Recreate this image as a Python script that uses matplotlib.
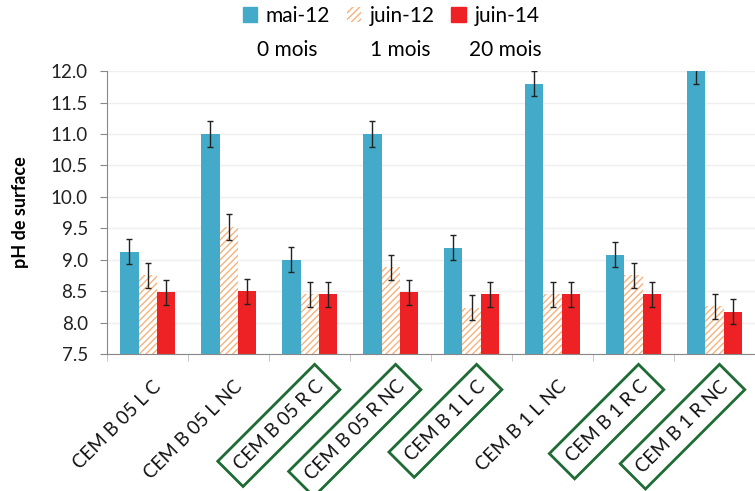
import matplotlib.pyplot as plt
import matplotlib.transforms as mtransforms
import numpy as np
from matplotlib.patches import Patch

plt.rcParams['font.family'] = ['Lato', 'DejaVu Sans']

# données
categories = ['CEM B 05 L C', 'CEM B 05 L NC', 'CEM B 05 R C', 'CEM B 05 R NC',
              'CEM B 1 L C', 'CEM B 1 L NC', 'CEM B 1 R C', 'CEM B 1 R NC']
encadre = [False, False, True, True, True, False, True, True]
series = ['mai-12', 'juin-12', 'juin-14']
durees = ['0 mois', '1 mois', '20 mois']
mai12 = [9.13, 11.0, 9.0, 11.0, 9.19, 11.8, 9.08, 12.0]
juin12 = [8.75, 9.52, 8.45, 8.88, 8.24, 8.45, 8.75, 8.26]
juin14 = [8.48, 8.5, 8.45, 8.48, 8.45, 8.45, 8.45, 8.17]
err_mai12 = [0.2, 0.2, 0.2, 0.2, 0.2, 0.2, 0.2, 0.2]
err_juin12 = [0.2, 0.2, 0.2, 0.2, 0.2, 0.2, 0.2, 0.2]
err_juin14 = [0.2, 0.2, 0.2, 0.2, 0.2, 0.2, 0.2, 0.2]

bleu = '#43abc9'
orange = '#f7b27c'
rouge = '#ee2224'

fig = plt.figure(figsize=(7.55, 4.91), dpi=100)
ax = fig.add_axes([0.142, 0.279, 0.858, 0.576])

x = np.arange(len(categories))
w = 0.225
ebar = dict(ecolor='#222222', elinewidth=1, capsize=2.5, capthick=1)

ax.bar(x - w, mai12, w, yerr=err_mai12, color=bleu, error_kw=ebar, zorder=2)
ax.bar(x, juin12, w, yerr=err_juin12, color='white', edgecolor=orange, hatch='/////',
       linewidth=0, error_kw=ebar, zorder=2)
ax.bar(x + w, juin14, w, yerr=err_juin14, color=rouge, error_kw=ebar, zorder=2)

ax.set_ylim(7.5, 12.0)
ax.set_xlim(-0.5, len(categories) - 0.5)
yt = np.arange(7.5, 12.01, 0.5)
ax.set_yticks(yt)
ax.set_yticklabels([f'{v:.1f}' for v in yt], fontsize=13.5, color='#222222')
ax.yaxis.grid(True, color='#eeeeee', linewidth=1, zorder=0)
ax.set_axisbelow(True)
ax.set_ylabel('pH de surface', fontsize=13, fontweight='bold')
ax.yaxis.set_label_coords(-0.12, 0.5)

for s in ['top', 'right']:
    ax.spines[s].set_visible(False)
for s in ['left', 'bottom']:
    ax.spines[s].set_color('#888888')
ax.tick_params(axis='y', color='#888888', length=5, pad=9)

# ticks entre les catégories
ax.set_xticks(x)
ax.set_xticks(np.arange(-0.5, len(categories), 1), minor=True)
ax.tick_params(axis='x', which='major', length=0, pad=17)
ax.tick_params(axis='x', which='minor', length=5, color='#bbbbbb')
labels = ax.set_xticklabels(categories, rotation=45, ha='right',
                            rotation_mode='anchor', fontsize=13.5, color='#111111')
decal = mtransforms.ScaledTranslation(0.05, 0, fig.dpi_scale_trans)
for lab, enc in zip(labels, encadre):
    lab.set_transform(lab.get_transform() + decal)
    if enc:
        lab.set_bbox(dict(boxstyle='square,pad=0.5', fc='none', ec='#1e6b35', lw=2))

# légende
handles = [Patch(color=bleu), Patch(facecolor='white', edgecolor=orange, hatch='/////', linewidth=0),
           Patch(color=rouge)]
fig.legend(handles, series, loc='center', bbox_to_anchor=(0.518, 0.968), ncol=3,
           frameon=False, fontsize=15, handlelength=0.7, handleheight=0.7,
           columnspacing=0.8, handletextpad=0.4)
for xp, t in zip([0.38, 0.53, 0.669], durees):
    fig.text(xp, 0.898, t, ha='center', va='center', fontsize=15)

fig.savefig('out.png', dpi=100)
